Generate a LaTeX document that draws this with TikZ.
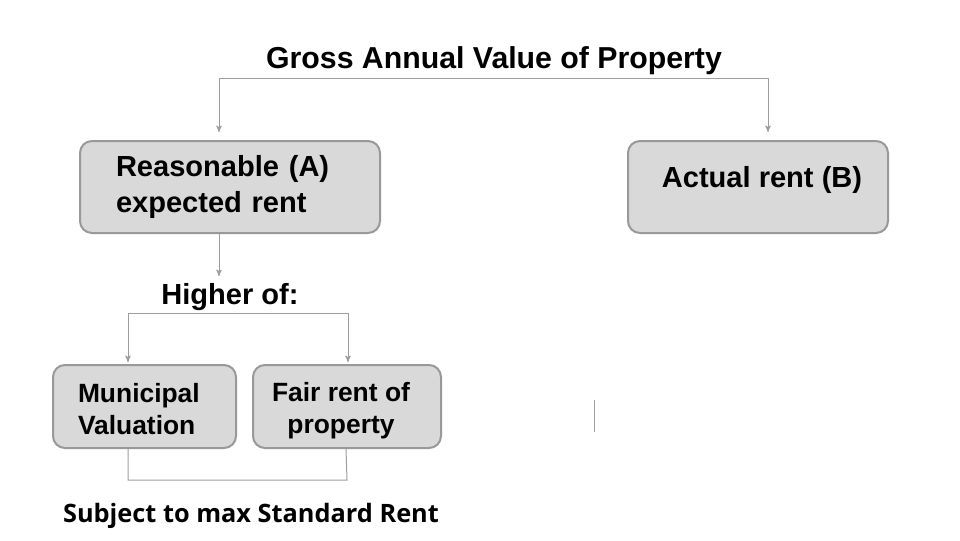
\documentclass[tikz,border=0pt]{standalone}
\usepackage{fontspec}
\setmainfont{Liberation Sans}
\newfontfamily\notefont{Open Sans}
\usepackage{tikz}
\usetikzlibrary{positioning}
\usetikzlibrary{arrows}
\definecolor{boxfill}{HTML}{D9D9D9}
\definecolor{boxline}{HTML}{999999}
\definecolor{linkgray}{HTML}{9E9E9E}

\begin{document}
\begin{tikzpicture}[x=0.75pt,y=-0.75pt]
	\tikzstyle{BoxStyle}  = [rectangle, rounded corners=9pt, fill=boxfill, draw=boxline, line width=1.5pt,
	                         font=\bfseries\fontsize{21.8}{26.5}\selectfont, inner sep=0pt]
	\tikzstyle{SmallBox}  = [BoxStyle, font=\bfseries\fontsize{19.8}{24}\selectfont]
	\tikzstyle{LinkStyle} = [draw=linkgray, line width=0.75pt]
	\tikzstyle{EdgeStyle} = [LinkStyle, ->, >=stealth']
	\useasboundingbox (0,0) rectangle (960,540);
	% titles
	\node[font=\bfseries\fontsize{22.7}{27}\selectfont] (gav) at (494,61) {Gross Annual Value of Property};
	\node[BoxStyle, minimum width=225pt, minimum height=69pt, text width=171pt, align=left] (rer) at (230,187)
		{Reasonable (A)\\expected rent};
	\node[BoxStyle, minimum width=195pt, minimum height=69pt, align=center] (act) at (758,187)
		{\hspace*{6pt}\raisebox{5pt}[\height][\depth]{Actual rent (B)}};
	\node[font=\bfseries\fontsize{21.8}{26}\selectfont] (higher) at (230,297) {Higher of:};
	\node[SmallBox, minimum width=137.25pt, minimum height=62.25pt, text width=99.75pt, align=left] (mun) at (144.5,406.5)
		{\raisebox{-2pt}[\height][\depth]{Municipal}\\\raisebox{-2pt}[\height][\depth]{Valuation}};
	\node[SmallBox, minimum width=141pt, minimum height=62.25pt, align=center] (fair) at (347,406.5)
		{\raisebox{-3pt}[\height][\depth]{Fair rent of}\hspace*{9pt}\\\raisebox{-3pt}[\height][\depth]{property}\hspace*{9pt}};
	\node[font=\notefont\bfseries\fontsize{19}{22}\selectfont] (std) at (251,516) {Subject to max Standard Rent};
	% split lines
	\coordinate (gl) at (219,78);
	\coordinate (gr) at (768,78);
	\coordinate (hl) at (128,313);
	\coordinate (hr) at (348,313);
	\coordinate (sl) at (128,480);
	\coordinate (sr) at (347,480);
	\draw[LinkStyle] (gl) -- (gr);
	\draw[EdgeStyle, shorten >=6pt] (gl) -- (gl |- rer.north);
	\draw[EdgeStyle, shorten >=6pt] (gr) -- (gr |- act.north);
	\draw[EdgeStyle, shorten >=2pt] (gl |- rer.south) -- (gl |- higher.north);
	\draw[LinkStyle] (hl) -- (hr);
	\draw[EdgeStyle, shorten >=1.5pt] (hl) -- (hl |- mun.north);
	\draw[EdgeStyle, shorten >=1.5pt] (hr) -- (hr |- fair.north);
	\draw[LinkStyle] (sl |- mun.south) -- (sl) -- (sr) -- ([xshift=-0.75pt]sr |- fair.south);
	\coordinate (tick) at (594,400);
	\draw[LinkStyle] (tick) -- ++(0,32);
\end{tikzpicture}
\end{document}
